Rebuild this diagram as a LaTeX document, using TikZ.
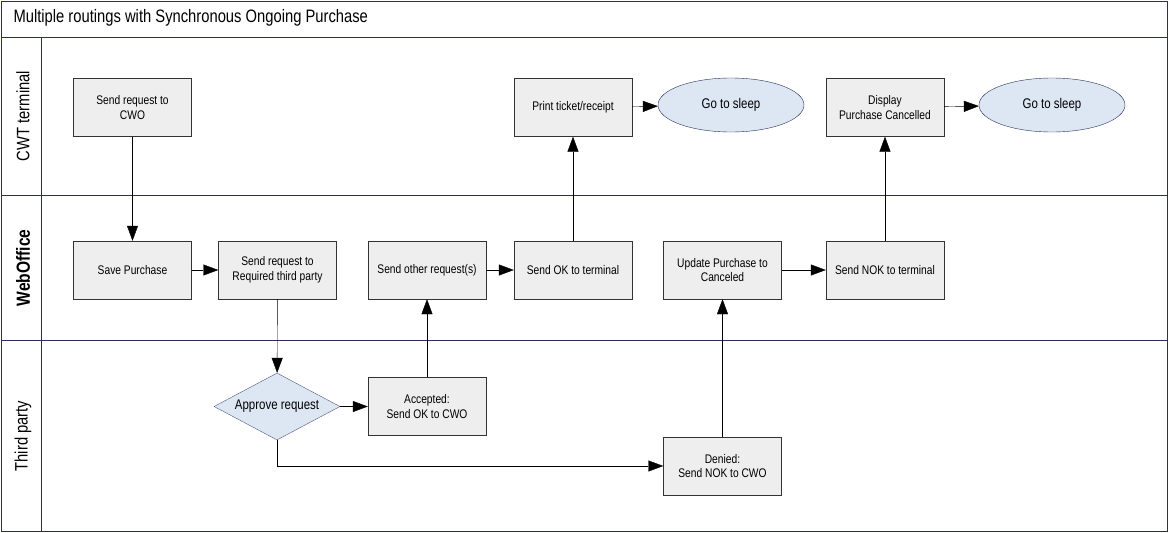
\documentclass[tikz,border=0pt]{standalone}
\usepackage{fontspec}
\setmainfont{Liberation Sans}[FakeStretch=0.82]
\usetikzlibrary{shapes.geometric,arrows.meta}
\definecolor{lane}{HTML}{2B2E5A}
\definecolor{boxfill}{HTML}{EEEEEE}
\definecolor{ellfill}{HTML}{DDE7F3}
\begin{document}
\begin{tikzpicture}[x=1pt,y=-1pt,
  box/.style={draw=black!80,fill=boxfill,minimum width=118pt,minimum height=58pt,align=center,font=\fontsize{12.5}{14.5}\selectfont,inner sep=1pt},
  ell/.style={ellipse,draw=lane,fill=ellfill,minimum width=146pt,minimum height=54pt,font=\fontsize{14}{16}\selectfont},
  dia/.style={diamond,draw=lane!80,fill=ellfill,minimum width=126pt,minimum height=67pt,aspect=1.9,inner sep=0pt,font=\fontsize{14}{16}\selectfont},
  arr/.style={draw=black,-{Triangle[length=15pt,width=11pt]}},
  lbl/.style={rotate=90,font=\fontsize{18}{20}\selectfont}]
\useasboundingbox (0,0) rectangle (1168,533);
\draw[lane] (1,1) rectangle (1167,531);
\draw[lane] (1,37) -- (1167,37);
\draw[lane] (1,195) -- (1167,195);
\draw[lane] (1,340) -- (1167,340);
\draw[lane] (41,37) -- (41,531);
\node[anchor=west,font=\fontsize{18}{20}\selectfont] (title) at (10,18) {Multiple routings with Synchronous Ongoing Purchase};
\node[lbl] (l1) at (23,116) {CWT terminal};
\node[lbl,font=\fontsize{19}{20}\selectfont] (l2) at (23,268) {\textbf{WebOffice}};
\node[lbl] (l3) at (23,436) {Third party};
\node[box] (send1) at (132.5,107.5) {Send request to\\CWO};
\node[box] (save) at (132.5,270) {Save Purchase};
\node[box] (sendreq) at (277.5,270) {Send request to\\Required third party};
\node[box] (other) at (427,270) {Send other request(s)};
\node[box] (sendok) at (573,270) {Send OK to terminal};
\node[box] (print) at (573,107.5) {Print ticket/receipt};
\node[ell] (sleep1) at (731,105) {Go to sleep};
\node[box] (update) at (722.5,270) {Update Purchase to\\Canceled};
\node[box] (sendnok) at (885,270) {Send NOK to terminal};
\node[box] (display) at (885,107.5) {Display\\Purchase Cancelled};
\node[ell] (sleep2) at (1052,105) {Go to sleep};
\node[dia] (appr) at (277,406.5) {Approve request};
\node[box] (acc) at (427,406.5) {Accepted:\\Send OK to CWO};
\node[box] (den) at (722.5,466) {Denied:\\Send NOK to CWO};
\draw[arr] (send1) -- (save);
\draw[arr] (save) -- (sendreq);
\draw[arr] (sendreq) -- (appr);
\draw[arr] (appr) -- (acc);
\draw[arr] (acc) -- (other);
\draw[arr] (other) -- (sendok);
\draw[arr] (sendok) -- (print);
\draw[arr] (print) -- (sleep1);
\draw[arr] (appr.south) |- (den.west);
\draw[arr] (den) -- (update);
\draw[arr] (update) -- (sendnok);
\draw[arr] (sendnok) -- (display);
\draw[arr] (display) -- (sleep2);
\end{tikzpicture}
\end{document}
